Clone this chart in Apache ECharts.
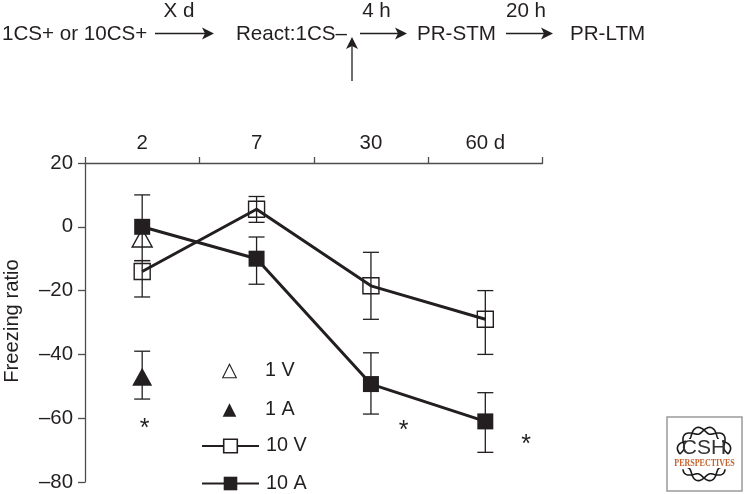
<!DOCTYPE html>
<html><head><meta charset="utf-8">
<style>html,body{margin:0;padding:0;background:#fff}#c{width:744px;height:494px}</style>
<script src="https://cdn.jsdelivr.net/npm/echarts@6/dist/echarts.min.js"></script>
</head><body><div id="c"></div>
<script>
const categories = ['2', '7', '30', '60 d'];
const yTicks = { min: -80, max: 20, step: 20 };
const v10 = [-14, 5.5, -18.5, -29];
const v10Hi = [-10.6, 9.5, -8, -20];
const v10Lo = [-22, 1.4, -29, -40];
const a10 = [0, -10, -49.3, -61];
const a10Hi = [10, -3.2, -39.5, -52];
const a10Lo = [-10.6, -18, -58.7, -70.7];
const v1 = [-3.5, null, null, null];
const a1 = [-47, null, null, null];
const a1Hi = [-39, null, null, null];
const a1Lo = [-54, null, null, null];

const ink = '#231f20', axisInk = '#4d4d4f';
const font = '"Liberation Sans", Arial, sans-serif';
const T = (text, x, y, size, extra) => ({ type: 'text', x, y, silent: true, style: Object.assign({
  text, fill: ink, font: size + 'px ' + font, align: 'left', verticalAlign: 'middle' }, extra || {}) });
const arrow = (x1, y1, x2, y2) => {
  const vert = x1 === x2, h = 11, w = 6;
  return [
    { type: 'line', shape: vert ? { x1, y1, x2, y2: y2 + 6 } : { x1, y1, x2: x2 - 6, y2 }, style: { stroke: ink, lineWidth: 1.3 } },
    { type: 'polygon', shape: { points: vert
      ? [[x2, y2], [x2 + w, y2 + h + 1], [x2, y2 + h - 2], [x2 - w, y2 + h + 1]]
      : [[x2, y2], [x2 - h - 1, y2 - w], [x2 - h + 2, y2], [x2 - h - 1, y2 + w]] }, style: { fill: ink } }
  ];
};
function strand(cx, cy, r, a0, a1, phase) {
  const pts = [];
  for (let i = 0; i <= 60; i++) {
    const a = a0 + (a1 - a0) * i / 60;
    const rr = r + 3.4 * Math.sin(a * 6 + phase);
    pts.push([cx + rr * Math.cos(a), cy + rr * Math.sin(a)]);
  }
  return { type: 'polyline', shape: { points: pts }, style: { stroke: '#1a1a1a', lineWidth: 1.6, fill: null } };
}
const lx = 704, ly = 454, lr = 24;
const logo = [
  { type: 'rect', shape: { x: 667, y: 417, width: 75, height: 74 }, style: { fill: '#fff', stroke: '#9a9a9a', lineWidth: 1.5 } },
  strand(lx, ly, lr, Math.PI * 1.0, Math.PI * 2.0, 0),
  strand(lx, ly, lr, Math.PI * 1.0, Math.PI * 2.0, Math.PI),
  strand(lx, ly, lr, Math.PI * 0.2, Math.PI * 0.8, 0),
  strand(lx, ly, lr, Math.PI * 0.2, Math.PI * 0.8, Math.PI),
  { type: 'rect', shape: { x: 686, y: 439, width: 36, height: 18 }, style: { fill: '#fff' } },
  T('CSH', 704, 448, 21, { align: 'center', fill: '#333' }),
  { type: 'rect', shape: { x: 674, y: 458, width: 61, height: 10 }, style: { fill: '#fff' } },
  Object.assign(T('PERSPECTIVES', 704.5, 463, 8, { align: 'center', fill: '#c4622d', font: 'bold 8px "Liberation Serif", serif' }), { scaleY: 1.25 })
];
const flowSize = 20.6;
const freezing = T('Freezing ratio', 12.5, 321, 20.2, { align: 'center' });
freezing.rotation = Math.PI / 2;
const graphicEls = [
  T('1CS+ or 10CS+', 2, 34.5, flowSize),
  T('X d', 179, 11.5, flowSize, { align: 'center' }),
  T('React:1CS–', 236, 34.5, flowSize),
  T('4 h', 376.5, 11.5, flowSize, { align: 'center' }),
  T('PR-STM', 417, 34.5, flowSize),
  T('20 h', 526, 11.5, flowSize, { align: 'center' }),
  T('PR-LTM', 570, 34.5, flowSize),
  ...arrow(155, 33.5, 214, 33.5),
  ...arrow(360, 33.5, 407, 33.5),
  ...arrow(506, 33.5, 553, 33.5),
  ...arrow(352, 81, 352, 37),
  freezing,
  T('*', 144.5, 429, 25, { align: 'center' }),
  T('*', 403.5, 431, 25, { align: 'center' }),
  T('*', 526, 445, 25, { align: 'center' }),
  ...logo
];

function errBars(name, hi, lo, zv) {
  return {
    type: 'custom', name: name, z: zv, silent: true, xAxisIndex: 0, yAxisIndex: 0,
    data: categories.map((c, i) => [i, hi[i], lo[i]]).filter(d => d[1] !== null),
    encode: { x: 0, y: [1, 2] },
    renderItem(params, api) {
      const a = api.coord([api.value(0), api.value(1)]), b = api.coord([api.value(0), api.value(2)]);
      const s = { stroke: ink, lineWidth: 1.3 }, c = 8;
      return { type: 'group', children: [
        { type: 'line', shape: { x1: a[0], y1: a[1], x2: b[0], y2: b[1] }, style: s },
        { type: 'line', shape: { x1: a[0] - c, y1: a[1], x2: a[0] + c, y2: a[1] }, style: s },
        { type: 'line', shape: { x1: b[0] - c, y1: b[1], x2: b[0] + c, y2: b[1] }, style: s }
      ] };
    }
  };
}
const hollow = { color: 'rgba(255,255,255,0)', borderColor: ink, borderWidth: 1.4 };
const legendRow = (name, top, extra) => ({
  data: [Object.assign({ name }, extra || {})], orient: 'vertical', left: 201, top: top - 8.5, padding: 0,
  itemWidth: 57, itemHeight: 17, itemGap: 0, selectedMode: false,
  textStyle: { color: ink, fontSize: 19.8, fontFamily: font, padding: [2, 0, 0, 2] }
});
const chart = echarts.init(document.getElementById('c'), null, { renderer: 'canvas' });
chart.setOption({
  animation: false,
  backgroundColor: '#fff',
  tooltip: { show: false },
  grid: { left: 85, width: 457.5, top: 163, height: 319, containLabel: false },
  xAxis: {
    type: 'category', position: 'top', data: categories, boundaryGap: true,
    axisLine: { show: true, onZero: false, lineStyle: { color: axisInk, width: 1.3 } },
    axisTick: { show: true, alignWithLabel: false, length: 6, lineStyle: { color: axisInk, width: 1.3 } },
    axisLabel: { color: ink, fontSize: 20.4, fontFamily: font, margin: 10 }
  },
  yAxis: {
    type: 'value', min: yTicks.min, max: yTicks.max, interval: yTicks.step,
    splitLine: { show: false },
    axisLine: { show: true, onZero: false, lineStyle: { color: axisInk, width: 1.3 } },
    axisTick: { show: true, length: 7, lineStyle: { color: axisInk, width: 1.3 } },
    axisLabel: { color: ink, fontSize: 20.4, fontFamily: font, margin: 12, padding: [2, 0, 0, 0], formatter: v => String(v).replace('-', '–') }
  },
  legend: [
    legendRow('1 V', 369.5, { itemStyle: { color: '#fff', borderColor: ink, borderWidth: 1.1 } }),
    legendRow('1 A', 408.5),
    legendRow('10 V', 444.5, { itemStyle: { color: '#fff', borderColor: ink, borderWidth: 1.6 } }),
    legendRow('10 A', 482)
  ],
  series: [
    errBars('err10V', v10Hi, v10Lo, 2),
    errBars('err10A', a10Hi, a10Lo, 2),
    errBars('err1A', a1Hi, a1Lo, 2),
    { name: '1 V', type: 'line', data: v1, symbol: 'triangle', symbolSize: [20, 18], showSymbol: true, z: 3,
      lineStyle: { width: 0 }, itemStyle: hollow },
    { name: '10 V', type: 'line', data: v10, symbol: 'rect', symbolSize: 16, showAllSymbol: true, z: 4,
      lineStyle: { color: ink, width: 3 }, itemStyle: hollow },
    { name: '1 A', type: 'line', data: a1, symbol: 'triangle', symbolSize: [20, 18], z: 5,
      lineStyle: { width: 0 }, itemStyle: { color: ink } },
    { name: '10 A', type: 'line', data: a10, symbol: 'rect', symbolSize: 16, showAllSymbol: true, z: 6,
      lineStyle: { color: ink, width: 3 }, itemStyle: { color: ink } }
  ],
  graphic: { elements: graphicEls }
});
</script></body></html>
